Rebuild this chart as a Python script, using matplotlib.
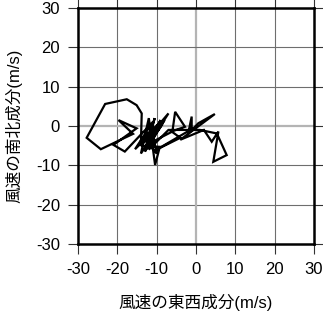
import matplotlib
matplotlib.use("Agg")
import matplotlib.pyplot as plt

plt.rcParams['font.family'] = ['Liberation Sans', 'Noto Sans CJK JP', 'DejaVu Sans']
plt.rcParams['axes.unicode_minus'] = False

# wind components (m/s)
u = [-11, -9, -13, -10.5, -12.5, -8.5, -14, -13.8, -15.1, -17.6, -23.1, -27.8, -24.2,
     -16, -19.7, -15.1, -21.0, -18.1, -11, -15.5, -9.5, -14, -12, -10.4, -9.2, -14,
     -7.0, -11, -13, -8, -12, -6, -5.3, -2.8, -6.2, -4, -10, -1.1, -1.1, -2, 0.6,
     4.8, -4, 2, 4.0, 5.7, 4.4, 7.8, 5.3, 1, -7, -12, -9, -13.5, -10, -11.5]
v = [-2, 1.5, -6, 2, -5.5, 0.5, -4, 3.2, 5.3, 6.8, 5.6, -3.0, -5.9,
     -2, 1.5, -0.6, -4.8, -6.5, 1, -5.9, 0, -7, 2, -9.9, -5.3, -5,
     3.2, -3, -6.5, 1.5, -4.5, -1.4, 3.6, -0.2, -1.4, -3, -6, -0.8, 2.4, -2, 0.7,
     3.05, -3.5, -1, -4.0, -1.4, -9.1, -7.4, -1.9, -1, -1, -6, 1, -3, -7, 0]

ticks = [-30, -20, -10, 0, 10, 20, 30]
xlabel = "風速の東西成分(m/s)"
ylabel = "風速の南北成分(m/s)"

fig = plt.figure(figsize=(3.23, 3.13), dpi=100)
ax = fig.add_axes([78/323, 69/313, 236/323, 236/313])

for t in ticks[1:-1]:
    if t == 0:
        ax.axvline(t, color='#b4b4b4', lw=1.6, zorder=1)
        ax.axhline(t, color='#b4b4b4', lw=1.6, zorder=1)
    else:
        ax.axvline(t, color='#6e6e6e', lw=0.8, zorder=1)
        ax.axhline(t, color='#6e6e6e', lw=0.8, zorder=1)

ax.plot(u, v, color='black', lw=1.6, zorder=3, solid_joinstyle='miter')

ax.set_xlim(-30, 30)
ax.set_ylim(-30, 30)
ax.set_xticks(ticks)
ax.set_yticks(ticks)
ax.tick_params(direction='out', length=7, width=0.8, color='#333333',
               labelsize=12, top=True, right=True, pad=6)
for s in ax.spines.values():
    s.set_linewidth(1.8)
ax.set_xlabel(xlabel, fontsize=12, labelpad=12)
ax.set_ylabel(ylabel, fontsize=12, labelpad=10)

fig.savefig("out.png", dpi=100)
